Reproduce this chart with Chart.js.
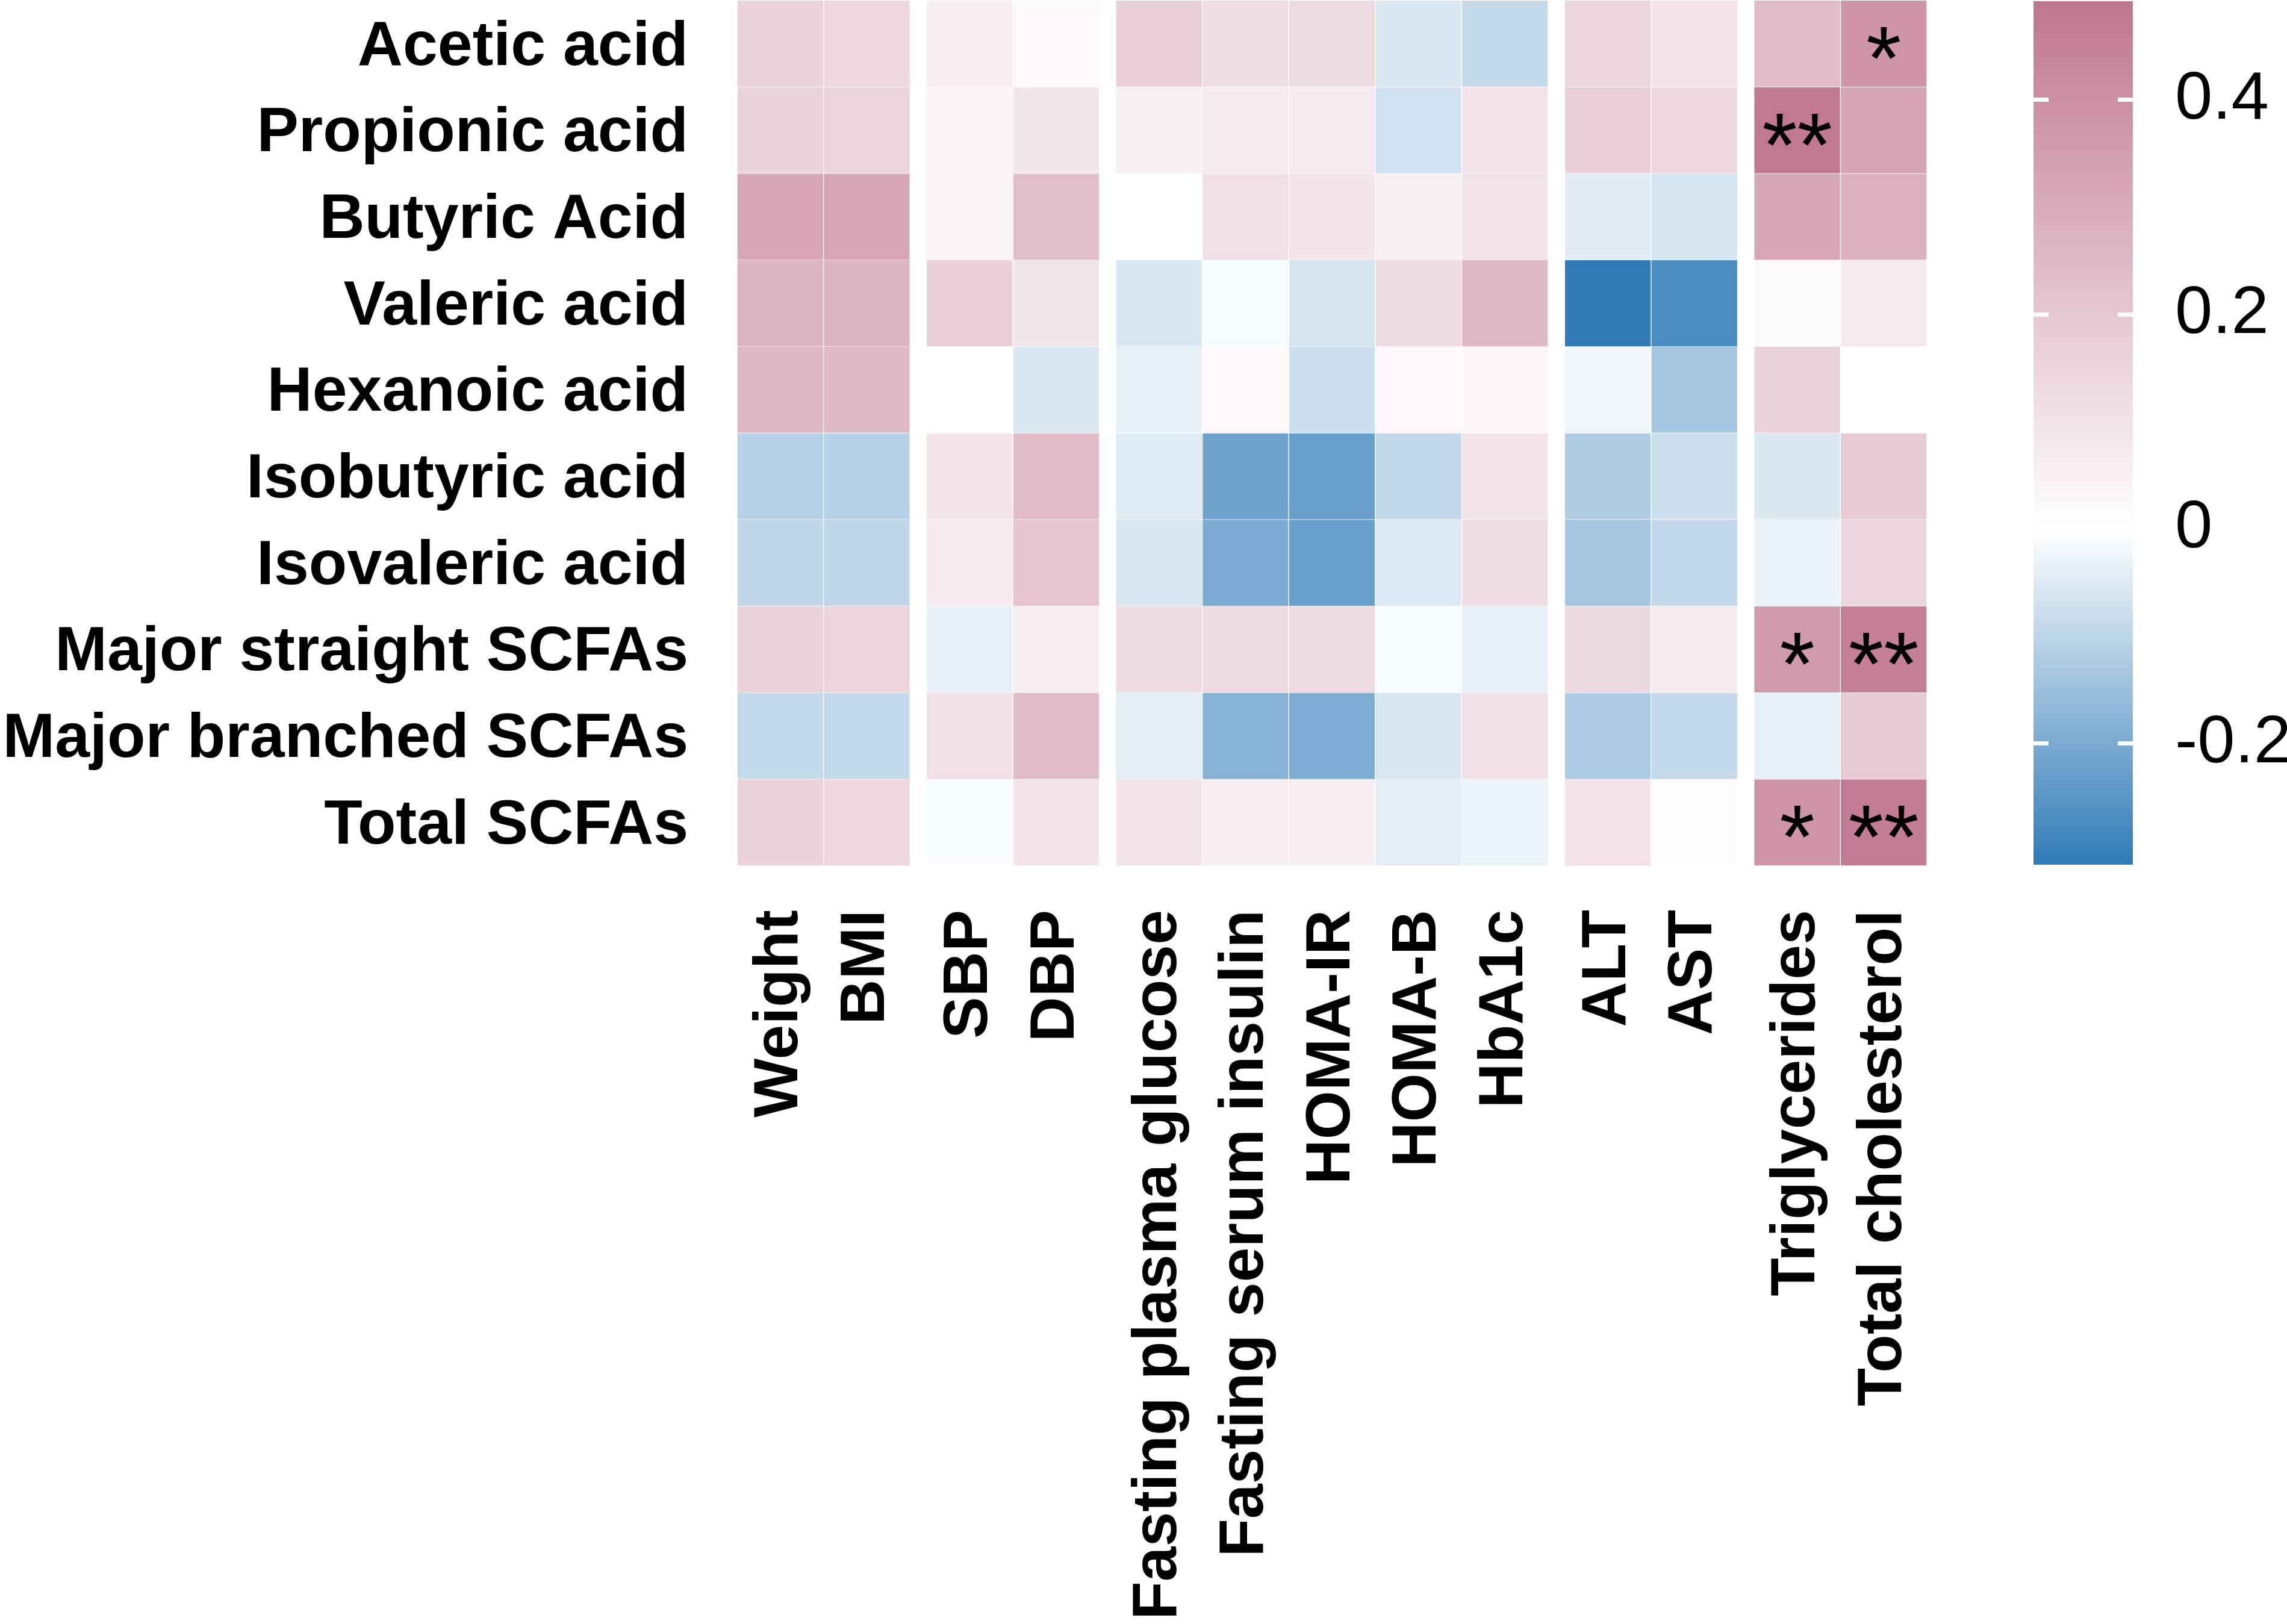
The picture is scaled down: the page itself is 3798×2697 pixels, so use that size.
<!DOCTYPE html>
<html>
<head>
<meta charset="utf-8">
<script src="https://cdn.jsdelivr.net/npm/chart.js@4.4.0/dist/chart.umd.min.js"></script>
<style>
html, body { margin: 0; padding: 0; background: #fff; }
#wrap { position: relative; width: 3798px; height: 2697px; }
canvas { position: absolute; top: 0; }
#heat { left: 0; }
#bar { left: 3300px; }
</style>
</head>
<body>
<div id="wrap">
  <canvas id="heat" width="3798" height="2697"></canvas>
  <canvas id="bar" width="498" height="2697"></canvas>
</div>
<script>
const rows = ['Acetic acid', 'Propionic acid', 'Butyric Acid', 'Valeric acid', 'Hexanoic acid',
  'Isobutyric acid', 'Isovaleric acid', 'Major straight SCFAs', 'Major branched SCFAs', 'Total SCFAs']
const cols = ['Weight', 'BMI', 'SBP', 'DBP', 'Fasting plasma glucose', 'Fasting serum insulin',
  'HOMA-IR', 'HOMA-B', 'HbA1c', 'ALT', 'AST', 'Triglycerides', 'Total cholesterol']
const colGroups = [2, 2, 5, 2, 2]

// correlation coefficients, one array per SCFA (column order as in cols)
const acetic     = [0.16, 0.14, 0.06, 0.025, 0.17, 0.12, 0.13, -0.055, -0.09, 0.15, 0.10, 0.24, 0.38]
const propionic  = [0.16, 0.155, 0.04, 0.09, 0.05, 0.08, 0.08, -0.07, 0.10, 0.17, 0.14, 0.48, 0.325]
const butyric    = [0.32, 0.32, 0.04, 0.23, 0.0, 0.11, 0.095, 0.05, 0.10, -0.045, -0.065, 0.31, 0.28]
const valeric    = [0.27, 0.27, 0.17, 0.09, -0.055, -0.013, -0.064, 0.13, 0.25, -0.31, -0.27, 0.02, 0.08]
const hexanoic   = [0.26, 0.25, 0.0, -0.055, -0.035, 0.025, -0.077, 0.025, 0.035, -0.022, -0.136, 0.16, 0.0]
const isobutyric = [-0.11, -0.11, 0.10, 0.24, -0.05, -0.22, -0.225, -0.093, 0.10, -0.12, -0.077, -0.055, 0.19]
const isovaleric = [-0.097, -0.097, 0.08, 0.21, -0.058, -0.20, -0.225, -0.052, 0.12, -0.135, -0.092, -0.03, 0.15]
const straight   = [0.16, 0.15, -0.035, 0.06, 0.125, 0.13, 0.13, -0.01, -0.037, 0.135, 0.07, 0.365, 0.46]
const branched   = [-0.09, -0.09, 0.11, 0.24, -0.043, -0.18, -0.197, -0.06, 0.11, -0.123, -0.09, -0.037, 0.19]
const total      = [0.16, 0.145, -0.01, 0.095, 0.095, 0.06, 0.06, -0.043, -0.028, 0.10, 0.015, 0.38, 0.47]
const values = [acetic, propionic, butyric, valeric, hexanoic, isobutyric, isovaleric, straight, branched, total]

// significance marks
const stars = [
  ['Acetic acid', 'Total cholesterol', '*'],
  ['Propionic acid', 'Triglycerides', '**'],
  ['Major straight SCFAs', 'Triglycerides', '*'],
  ['Major straight SCFAs', 'Total cholesterol', '**'],
  ['Total SCFAs', 'Triglycerides', '*'],
  ['Total SCFAs', 'Total cholesterol', '**'],
]

// colour key
const scaleMin = -0.313
const scaleMax = 0.492
const keyTicks = [-0.2, 0, 0.2, 0.4]

const lowCol = [47, 123, 183]
const highCol = [191, 118, 143]
function colorFor(v) {
    let t, c
    if (v < 0) { t = Math.min(v / scaleMin, 1); c = lowCol }
    else { t = Math.min(v / scaleMax, 1); c = highCol }
    const m = c.map(k => Math.round(255 + (k - 255) * t))
    return 'rgb(' + m.join(',') + ')'
}

// column centres, groups separated by a small gap
const gap = 0.19
const colPos = []
let p = 0.5
colGroups.forEach(n => {
    for (let i = 0; i < n; i++) { colPos.push(p); p += 1 }
    p += gap
})
const xMax = colPos[colPos.length - 1] + 0.5

const labelFont = { family: '"Liberation Sans", Arial, sans-serif', size: 104, weight: 'bold' }

// drop the extra room chart.js keeps for half labels at the ends
function noPad(s) {
    s.paddingTop = 0
    s.paddingBottom = 0
    s.paddingLeft = 0
    s.paddingRight = 0
}

const starPlugin = {
    id: 'stars',
    afterDatasetsDraw(chart) {
        const { ctx, scales: { x, y } } = chart
        const size = 150
        ctx.save()
        ctx.font = size + 'px "Liberation Sans", Arial, sans-serif'
        ctx.fillStyle = '#000'
        ctx.textAlign = 'center'
        ctx.textBaseline = 'alphabetic'
        stars.forEach(([rn, cn, mark]) => {
            const r = rows.indexOf(rn), c = cols.indexOf(cn)
            const cx = x.getPixelForValue(colPos[c])
            const cy = y.getPixelForValue(r + 0.5)
            ctx.fillText(mark, cx, cy + size * 0.507)
        })
        ctx.restore()
    }
}

new Chart(document.getElementById('heat'), {
    type: 'bar',
    data: {
        datasets: rows.map((name, r) => ({
            label: name,
            data: values[r].map((v, c) => ({ x: colPos[c], y: [r, r + 1] })),
            backgroundColor: values[r].map(colorFor),
            borderColor: 'rgba(255,255,255,0.3)',
            borderWidth: 1,
            barPercentage: 1,
            categoryPercentage: 1,
            grouped: false,
        }))
    },
    options: {
        responsive: false,
        animation: false,
        layout: { padding: { left: 0, top: 1, right: 598, bottom: 0 }, autoPadding: false },
        plugins: { legend: { display: false }, tooltip: { enabled: false } },
        scales: {
            x: {
                type: 'linear', min: 0, max: xMax, offset: false,
                afterBuildTicks: s => { s.ticks = colPos.map(v => ({ value: v })) },
                afterFit: s => { s.height = 1259; noPad(s) },
                ticks: {
                    callback: (v, i) => cols[i],
                    font: labelFont, color: '#000', padding: 73,
                    autoSkip: false, minRotation: 90, maxRotation: 90,
                },
                grid: { display: false, drawTicks: false, offset: false },
                border: { display: false },
            },
            y: {
                type: 'linear', min: 0, max: rows.length, reverse: true,
                afterBuildTicks: s => { s.ticks = rows.map((_, i) => ({ value: i + 0.5 })) },
                afterFit: s => { s.width = 1224; noPad(s) },
                ticks: {
                    callback: (v, i) => rows[i], font: labelFont, color: '#000',
                    padding: 81, labelOffset: 6, autoSkip: false,
                },
                grid: { display: false, drawTicks: false },
                border: { display: false },
            }
        }
    },
    plugins: [starPlugin]
})

new Chart(document.getElementById('bar'), {
    type: 'bar',
    data: {
        labels: [''],
        datasets: [{
            data: [[scaleMin, scaleMax]],
            backgroundColor: ctx => {
                const a = ctx.chart.chartArea
                if (!a) return '#fff'
                const g = ctx.chart.ctx.createLinearGradient(0, a.bottom, 0, a.top)
                g.addColorStop(0, colorFor(scaleMin))
                g.addColorStop(-scaleMin / (scaleMax - scaleMin), colorFor(0))
                g.addColorStop(1, colorFor(scaleMax))
                return g
            },
            borderWidth: 0,
            barPercentage: 1,
            categoryPercentage: 1,
        }]
    },
    options: {
        responsive: false,
        animation: false,
        layout: { padding: { left: 77, top: 2, right: 0, bottom: 1261 }, autoPadding: false },
        plugins: { legend: { display: false }, tooltip: { enabled: false } },
        scales: {
            x: { display: false },
            y: {
                position: 'right', min: scaleMin, max: scaleMax,
                afterBuildTicks: s => { s.ticks = keyTicks.map(v => ({ value: v })) },
                afterFit: s => { s.width = 256; noPad(s) },
                ticks: {
                    callback: v => String(v),
                    font: { family: '"Liberation Sans", Arial, sans-serif', size: 112 },
                    color: '#000', padding: 70,
                },
                grid: { color: '#fff', lineWidth: 7, drawTicks: false, z: 1 },
                border: { display: false, dash: [25, 115] },
            }
        }
    }
})
</script>
</body>
</html>
